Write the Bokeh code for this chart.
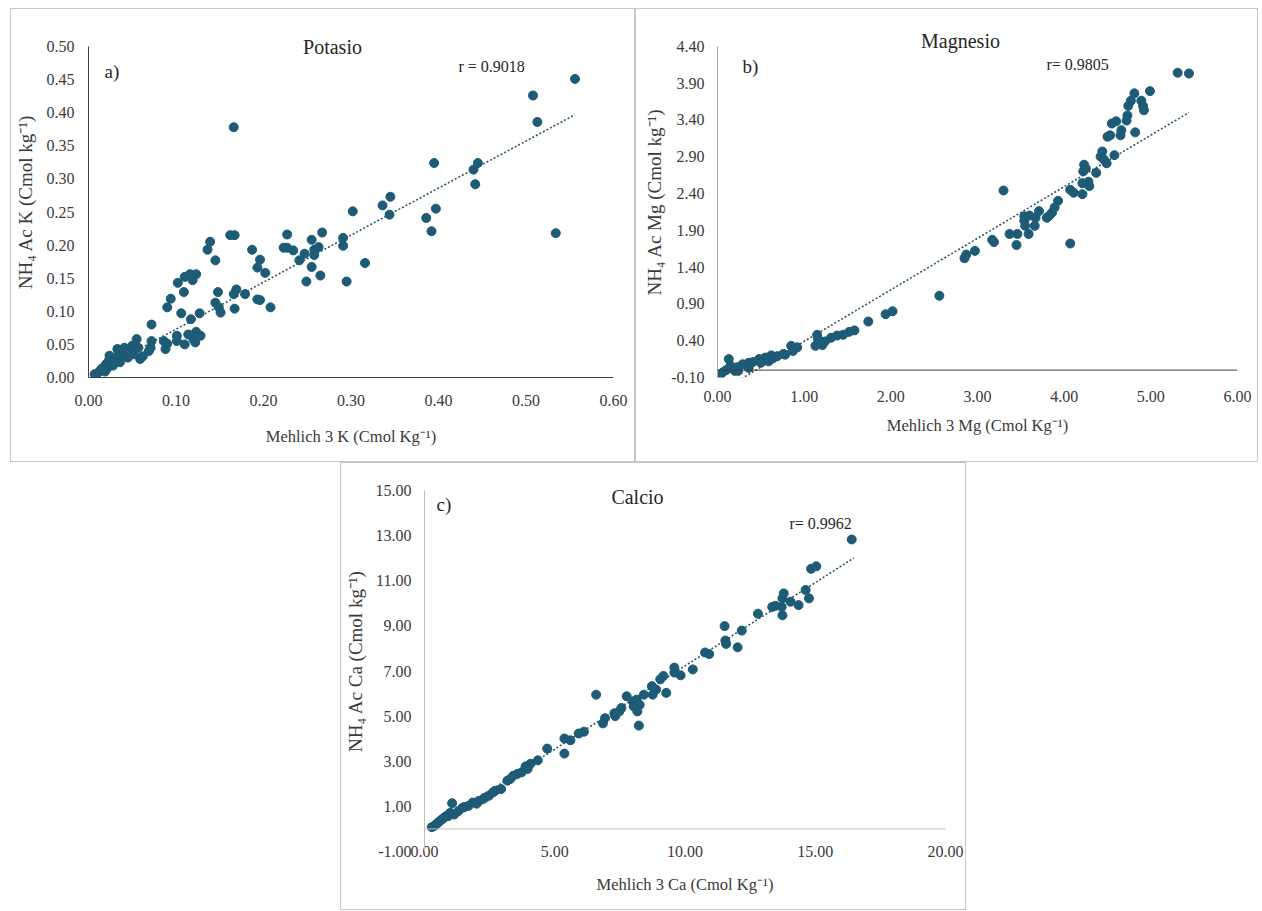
from bokeh.plotting import figure
from bokeh.layouts import column, row
from bokeh.models import Label, Span, FixedTicker, Spacer, NumeralTickFormatter, Range1d
from bokeh.embed import file_html
from bokeh.resources import INLINE

FONT = "Liberation Serif"
PT_COLOR = "#1d5b76"
TREND_COLOR = "#2f5866"

# ---------------- data: a) Potasio ----------------
k_mehlich = [0.556, 0.508, 0.513, 0.534, 0.166, 0.395, 0.445, 0.440, 0.442, 0.345, 0.336, 0.344,
             0.302, 0.397, 0.386, 0.392, 0.316, 0.295, 0.291, 0.291, 0.267, 0.255, 0.258, 0.263,
             0.258, 0.255, 0.265, 0.249, 0.247, 0.241, 0.227, 0.227, 0.223, 0.234, 0.208, 0.196,
             0.193, 0.187, 0.202, 0.193, 0.196, 0.179, 0.169, 0.166, 0.167, 0.162, 0.167, 0.139,
             0.136, 0.145, 0.148, 0.145, 0.149, 0.151, 0.116, 0.123, 0.110, 0.102, 0.119, 0.109,
             0.094, 0.090, 0.106, 0.117, 0.127, 0.072, 0.101, 0.101, 0.110, 0.114, 0.120, 0.123,
             0.128, 0.122, 0.086, 0.088, 0.090, 0.072, 0.071, 0.069, 0.055, 0.057, 0.050, 0.048,
             0.041, 0.036, 0.033, 0.029, 0.024, 0.023, 0.020, 0.017, 0.013, 0.010, 0.015, 0.027,
             0.031, 0.041, 0.045, 0.052, 0.007, 0.022, 0.036, 0.059, 0.028, 0.019, 0.044, 0.062]
k_nh4 = [0.451, 0.426, 0.386, 0.218, 0.378, 0.324, 0.324, 0.314, 0.292, 0.273, 0.260, 0.246,
         0.251, 0.255, 0.241, 0.221, 0.173, 0.145, 0.211, 0.199, 0.219, 0.208, 0.193, 0.197,
         0.185, 0.167, 0.154, 0.145, 0.187, 0.177, 0.216, 0.196, 0.196, 0.192, 0.106, 0.178,
         0.166, 0.193, 0.158, 0.118, 0.117, 0.126, 0.133, 0.126, 0.104, 0.215, 0.215, 0.205,
         0.193, 0.177, 0.129, 0.113, 0.106, 0.098, 0.156, 0.156, 0.152, 0.143, 0.147, 0.129,
         0.119, 0.106, 0.097, 0.088, 0.097, 0.080, 0.063, 0.055, 0.050, 0.065, 0.058, 0.069,
         0.063, 0.053, 0.055, 0.043, 0.051, 0.055, 0.045, 0.040, 0.058, 0.045, 0.048, 0.038,
         0.045, 0.035, 0.043, 0.030, 0.033, 0.025, 0.020, 0.015, 0.010, 0.006, 0.013, 0.023,
         0.028, 0.033, 0.030, 0.035, 0.005, 0.015, 0.023, 0.028, 0.018, 0.009, 0.040, 0.032]
k_trend_x = [0.008, 0.556]
k_trend_y = [0.0075, 0.397]

# ---------------- data: b) Magnesio ----------------
mg_mehlich = [5.31, 5.44, 4.99, 4.81, 4.77, 4.74, 4.73, 4.72, 4.91, 4.92, 4.89, 4.60, 4.55, 4.66,
              4.65, 4.53, 4.50, 4.82, 4.58, 4.44, 4.42, 4.46, 4.49, 4.37, 4.25, 4.22, 4.23, 4.28,
              4.29, 4.21, 4.21, 4.07, 4.11, 4.07, 3.93, 3.89, 3.86, 3.83, 3.80, 3.71, 3.67, 3.66,
              3.60, 3.54, 3.54, 3.55, 3.59, 3.46, 3.37, 3.45, 3.30, 3.19, 3.17, 2.97, 2.87, 2.85,
              2.56, 2.02, 1.94, 1.74, 1.58, 1.52, 1.45, 1.38, 1.31, 1.24, 1.21, 1.16, 1.13, 1.15,
              0.92, 0.85, 0.87, 0.76, 0.69, 0.62, 0.55, 0.48, 0.41, 0.36, 0.29, 0.23, 0.17, 0.13,
              0.10, 0.06, 0.03, 0.24, 0.36, 0.50, 0.64, 0.78, 0.59, 0.15, 0.20]
mg_nh4 = [4.04, 4.03, 3.79, 3.76, 3.66, 3.59, 3.46, 3.39, 3.59, 3.53, 3.66, 3.38, 3.35, 3.26,
          3.19, 3.19, 3.17, 3.23, 2.92, 2.97, 2.90, 2.86, 2.81, 2.68, 2.74, 2.70, 2.79, 2.56,
          2.50, 2.54, 2.39, 2.45, 2.41, 1.72, 2.30, 2.21, 2.14, 2.10, 2.07, 2.16, 2.07, 1.96,
          2.10, 2.03, 2.09, 1.96, 1.85, 1.85, 1.85, 1.70, 2.44, 1.74, 1.77, 1.62, 1.57, 1.52,
          1.01, 0.80, 0.76, 0.66, 0.54, 0.52, 0.48, 0.47, 0.44, 0.39, 0.34, 0.42, 0.33, 0.48,
          0.31, 0.33, 0.26, 0.22, 0.19, 0.20, 0.17, 0.15, 0.11, 0.10, 0.08, 0.04, 0.03, 0.15,
          0.00, -0.03, -0.06, -0.01, 0.03, 0.10, 0.16, 0.21, 0.12, 0.06, -0.01]
mg_trend_x = [0.0, 5.44]
mg_trend_y = [-0.31, 3.50]

# ---------------- data: c) Calcio ----------------
ca_mehlich = [16.40, 15.04, 14.84, 14.63, 14.76, 13.79, 13.74, 14.36, 14.05, 13.47, 13.71, 13.74,
              13.35, 12.80, 11.52, 12.18, 11.55, 11.58, 12.02, 10.77, 10.93, 10.30, 9.59, 9.59,
              9.83, 9.17, 9.05, 8.73, 8.89, 9.28, 8.76, 8.42, 7.76, 8.14, 8.00, 8.26, 8.17, 8.03,
              7.56, 7.29, 7.48, 7.32, 6.93, 6.85, 8.23, 6.59, 6.12, 5.92, 5.60, 5.37, 5.37, 4.71,
              4.35, 4.07, 3.96, 3.73, 3.57, 3.29, 3.18, 2.94, 2.63, 2.47, 2.32, 2.08, 1.85, 1.69,
              1.46, 1.30, 1.06, 1.14, 0.91, 0.75, 0.59, 0.44, 0.28, 0.36, 0.67, 0.99, 1.53, 2.00,
              2.24, 2.71, 3.41, 3.88, 0.52, 0.83]
ca_nh4 = [12.83, 11.64, 11.53, 10.59, 10.22, 10.44, 10.22, 9.92, 10.07, 9.89, 9.84, 9.47,
          9.84, 9.54, 8.99, 8.79, 8.35, 8.20, 8.05, 7.82, 7.75, 7.07, 7.15, 6.93,
          6.81, 6.78, 6.63, 6.33, 6.18, 6.03, 5.95, 5.95, 5.88, 5.73, 5.65, 5.50, 5.21, 5.43,
          5.36, 5.13, 5.21, 5.00, 4.91, 4.68, 4.58, 5.95, 4.31, 4.23, 3.93, 4.01, 3.34, 3.56,
          3.04, 2.89, 2.66, 2.51, 2.44, 2.21, 2.14, 1.77, 1.62, 1.47, 1.39, 1.24, 1.17, 1.02,
          0.94, 0.79, 1.14, 0.64, 0.57, 0.50, 0.35, 0.20, 0.08, 0.12, 0.42, 0.72, 0.97, 1.12,
          1.32, 1.69, 2.36, 2.77, 0.28, 0.57]
ca_trend_x = [0.28, 16.48]
ca_trend_y = [0.05, 12.01]

# ---------------- axes / ticks ----------------
k_xticks = [0.0, 0.1, 0.2, 0.3, 0.4, 0.5, 0.6]
k_yticks = [0.0, 0.05, 0.10, 0.15, 0.20, 0.25, 0.30, 0.35, 0.40, 0.45, 0.50]
mg_xticks = [0.0, 1.0, 2.0, 3.0, 4.0, 5.0, 6.0]
mg_yticks = [-0.10, 0.40, 0.90, 1.40, 1.90, 2.40, 2.90, 3.40, 3.90, 4.40]
ca_xticks = [0.0, 5.0, 10.0, 15.0, 20.0]
ca_yticks = [-1.0, 1.0, 3.0, 5.0, 7.0, 9.0, 11.0, 13.0, 15.0]

EXT = 20  # extra px of frame above the top tick, so the in-plot title is not clipped


def make_panel(width, height, borders, xr, yr, xticks, yticks, xs, ys, tx, ty,
               xlabel, ylabel, title, letter, rtext, pos, axis_colors, zero_line,
               x_standoffs, y_standoffs):
    left, right, top, bottom = borders
    frame_h = height - top - bottom
    axis_h = frame_h - EXT
    y_end = yr[1] + (yr[1] - yr[0]) * EXT / axis_h
    p = figure(width=width, height=height, output_backend="svg", toolbar_location=None,
               x_range=Range1d(*xr), y_range=Range1d(yr[0], y_end),
               min_border_left=left, min_border_right=right,
               min_border_top=top, min_border_bottom=bottom)
    p.styles = {"border": "1px solid #c6c6c6", "box-sizing": "border-box"}
    p.grid.visible = False
    p.outline_line_color = None
    p.background_fill_color = "white"
    p.border_fill_color = "white"
    p.xaxis.ticker = FixedTicker(ticks=xticks)
    p.yaxis.ticker = FixedTicker(ticks=yticks)
    p.yaxis.bounds = (yr[0], yr[1])
    for ax in (p.xaxis[0], p.yaxis[0]):
        ax.major_tick_line_color = None
        ax.minor_tick_line_color = None
        ax.major_tick_out = 0
        ax.major_tick_in = 0
        ax.minor_tick_out = 0
        ax.minor_tick_in = 0
        ax.major_label_text_font = FONT
        ax.major_label_text_font_size = "16px"
        ax.major_label_text_color = "#3a3a3a"
        ax.axis_label_text_font = FONT
        ax.axis_label_text_font_style = "normal"
        ax.axis_label_text_color = "#3a3a3a"
        ax.formatter = NumeralTickFormatter(format="0.00")
    p.xaxis.axis_label_text_font_size = "16.5px"
    p.yaxis.axis_label_text_font_size = "19px"
    p.xaxis.axis_label = xlabel
    p.yaxis.axis_label = ylabel
    p.xaxis.major_label_standoff = x_standoffs[0]
    p.xaxis.axis_label_standoff = x_standoffs[1]
    p.yaxis.major_label_standoff = y_standoffs[0]
    p.yaxis.axis_label_standoff = y_standoffs[1]
    p.yaxis.axis_line_color = axis_colors[1]
    if zero_line:
        p.xaxis.axis_line_color = None
        p.add_layout(Span(location=0, dimension="width", line_color=axis_colors[0], line_width=1))
    else:
        p.xaxis.axis_line_color = axis_colors[0]

    p.line(tx, ty, line_color=TREND_COLOR, line_width=1.6, line_dash="2 2")
    p.scatter(xs, ys, size=9, fill_color=PT_COLOR, line_color=PT_COLOR)

    (tpx, tpy), (lpx, lpy), (rpx, rpy) = pos
    p.add_layout(Label(x=tpx, y=tpy, x_units="screen", y_units="screen", text=title,
                       text_font=FONT, text_font_size="20px", text_color="#262626",
                       text_align="center", text_baseline="middle"))
    p.add_layout(Label(x=lpx, y=lpy, x_units="screen", y_units="screen", text=letter,
                       text_font=FONT, text_font_size="19px", text_color="#262626",
                       text_align="left", text_baseline="middle"))
    p.add_layout(Label(x=rpx, y=rpy, x_units="screen", y_units="screen", text=rtext,
                       text_font=FONT, text_font_size="16px", text_color="#262626",
                       text_align="left", text_baseline="middle"))
    return p


pa = make_panel(625, 454, (76, 23, 17, 86), (0, 0.6), (0, 0.5), k_xticks, k_yticks,
                k_mehlich, k_nh4, k_trend_x, k_trend_y,
                "Mehlich 3 K (Cmol Kg⁻¹)", "NH₄ Ac K (Cmol kg⁻¹)", "Potasio", "a)", "r = 0.9018",
                ((244, 331), (16, 306), (370, 311)), ("#404040", "#404040"), False,
                (17, 18), (14, 8))
pb = make_panel(623, 454, (81, 22, 17, 81), (0, 6), (-0.1, 4.4), mg_xticks, mg_yticks,
                mg_mehlich, mg_nh4, mg_trend_x, mg_trend_y,
                "Mehlich 3 Mg (Cmol Kg⁻¹)", "NH₄ Ac Mg (Cmol kg⁻¹)", "Magnesio", "b)", "r= 0.9805",
                ((243, 337), (25, 311), (329, 313)), ("#404040", "#a6a6a6"), True,
                (13, 11), (13, 3))
pc = make_panel(626, 448, (80, 22, 7, 60), (0, 20), (-1, 15), ca_xticks, ca_yticks,
                ca_mehlich, ca_nh4, ca_trend_x, ca_trend_y,
                "Mehlich 3 Ca (Cmol Kg⁻¹)", "NH₄ Ac Ca (Cmol kg⁻¹)", "Calcio", "c)", "r= 0.9962",
                ((213, 355), (12, 347), (365, 328)), ("#bfbfbf", "#bfbfbf"), True,
                (-6, 15), (13, 7))

layout = column(Spacer(width=10, height=8),
                row(Spacer(width=10, height=454), pa, pb),
                row(Spacer(width=340, height=448), pc))

open("out.html", "w").write(file_html(layout, INLINE))
